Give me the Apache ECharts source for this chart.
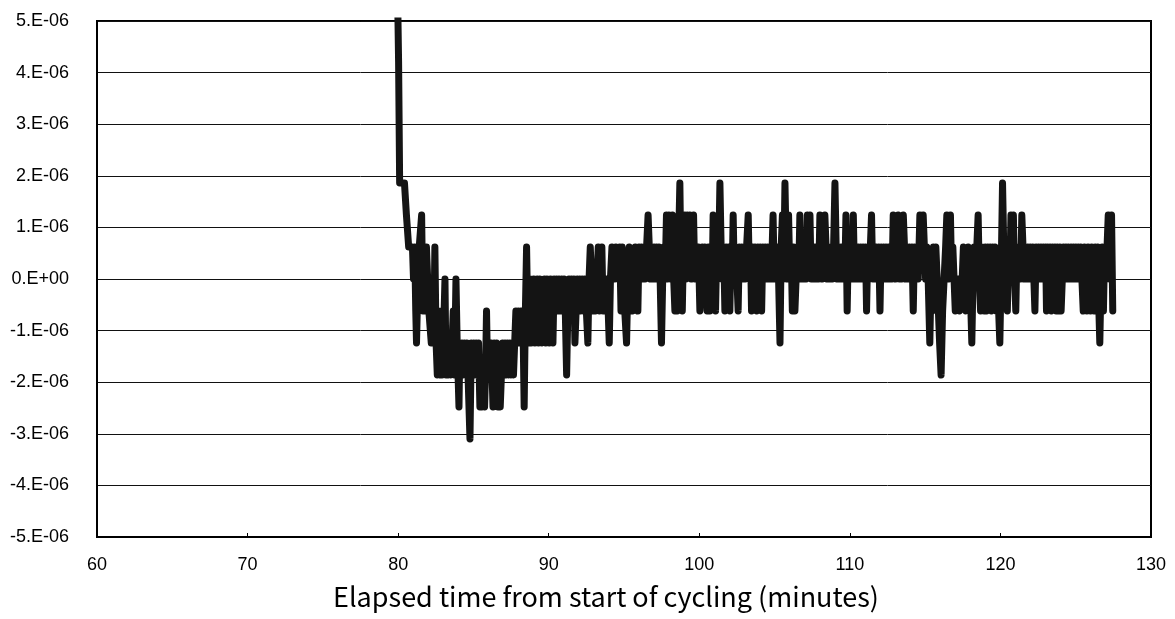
<!DOCTYPE html>
<html>
<head>
<meta charset="utf-8">
<script src="https://cdn.jsdelivr.net/npm/echarts@6/dist/echarts.min.js"></script>
<style>
  html, body { margin: 0; padding: 0; background: #fff; }
  #main { width: 1175px; height: 619px; }
</style>
</head>
<body>
<div id="main"></div>
<script>
// axis ticks
let xTicks = [60, 70, 80, 90, 100, 110, 120, 130];
let yTicks = [-5, -4, -3, -2, -1, 0, 1, 2, 3, 4, 5]; // in units of 1E-06

// trace: [minutes, value in 1E-06]
let trace = [
	[79.98, 5.2], [80.03, 4.2], [80.1, 1.86], [80.42, 1.86], [80.55, 1.24], [80.7, 0.62], [80.95, 0.62],
	[81.02, 0], [81.1, 0.62], [81.17, -0.62], [81.22, -1.24], [81.32, 0], [81.4, 0.62], [81.48, 0.62], [81.56, 1.24], [81.64, -0.62], [81.72, 0.62], [81.8, -0.62], [81.88, 0.62], [81.96, 0], [82.04, -0.62],
	[82.12, -0.62], [82.2, -1.24], [82.28, -0.62], [82.36, -1.24], [82.44, 0.62], [82.52, -1.24], [82.6, -1.86], [82.68, -1.24], [82.76, -1.86], [82.84, -0.62], [82.92, -1.86], [83.0, -1.24], [83.11, 0], [83.18, -1.86], [83.26, -1.24], [83.34, -1.86], [83.42, -1.24], [83.5, -1.86], [83.58, -1.24], [83.66, -0.62], [83.74, -1.86], [83.84, 0], [83.92, -1.24], [84.04, -2.48], [84.1, -1.24],
	[84.16, -1.86], [84.24, -1.24], [84.32, -1.86], [84.4, -1.24], [84.48, -1.86], [84.56, -1.24], [84.64, -1.86], [84.77, -3.1], [84.86, -1.24], [84.94, -1.86], [85.02, -1.24], [85.1, -1.86], [85.18, -1.24], [85.26, -1.86], [85.34, -1.24], [85.43, -2.48], [85.5, -1.86], [85.58, -2.48], [85.66, -1.86], [85.74, -2.48], [85.8, -1.86], [85.87, -0.62], [85.94, -1.86],
	[86.02, -1.24], [86.1, -1.86], [86.18, -1.24], [86.3, -2.48], [86.38, -1.24], [86.46, -1.86], [86.54, -1.24], [86.63, -2.48], [86.7, -1.86], [86.78, -2.48], [86.86, -1.86], [86.94, -1.24], [87.02, -1.86], [87.1, -1.24], [87.18, -1.86], [87.26, -1.24], [87.34, -1.86], [87.42, -1.24], [87.5, -1.86], [87.58, -1.24], [87.66, -1.86], [87.74, -1.24], [87.82, -0.62], [87.9, -1.24], [87.98, -0.62], [88.06, -1.24], [88.14, -0.62], [88.28, -0.62], [88.37, -2.48], [88.45, -0.62], [88.53, 0.62], [88.6, -0.62],
	[88.68, -1.24], [88.76, 0], [88.84, -1.24], [88.92, -0.62], [89.0, 0], [89.08, -1.24], [89.16, -0.62], [89.24, 0], [89.32, -1.24], [89.4, 0], [89.48, -0.62], [89.56, -1.24], [89.64, -0.62], [89.72, 0], [89.8, -1.24], [89.88, 0], [89.96, -0.62], [90.04, -1.24], [90.12, 0], [90.2, -0.62], [90.28, -1.24], [90.36, 0], [90.44, -0.62], [90.52, 0], [90.6, -0.62], [90.68, 0],
	[90.78, -0.62], [90.86, 0], [90.94, -0.62], [91.02, 0], [91.1, -0.62], [91.19, -1.86], [91.27, -0.62], [91.35, 0], [91.43, -0.62], [91.51, 0], [91.59, -0.62], [91.67, 0], [91.74, -1.24], [91.82, -0.62], [91.9, 0], [91.98, -0.62], [92.06, 0], [92.14, -0.62], [92.22, 0], [92.3, -0.62], [92.38, 0],
	[92.5, -0.62], [92.6, -1.24], [92.68, 0], [92.76, 0.62], [92.84, 0], [92.92, -0.62],
	[93.0, 0], [93.1, -0.62], [93.2, 0], [93.29, 0.62], [93.37, -0.62], [93.45, 0], [93.53, 0.62], [93.61, -0.62], [93.7, 0], [93.78, -0.62], [93.86, 0], [93.95, -0.62], [94.02, -1.24], [94.1, 0], [94.2, 0.62], [94.3, 0.62], [94.38, 0], [94.46, 0.62], [94.56, 0.62], [94.64, 0], [94.72, 0.62], [94.8, -0.62], [94.88, 0.62], [94.96, 0], [95.05, -0.62], [95.17, -1.24], [95.26, 0], [95.35, 0.62], [95.43, -0.62], [95.51, 0], [95.59, -0.62], [95.67, 0], [95.75, 0.62], [95.83, 0], [95.92, -0.62], [96.0, 0.62],
	[96.08, 0], [96.16, 0.62], [96.24, 0], [96.32, 0.62], [96.4, 0], [96.5, 0.62], [96.6, 1.24], [96.68, 0.62], [96.76, 0], [96.84, 0.62], [96.92, 0], [97.0, 0.62], [97.08, 0], [97.16, 0.62], [97.24, 0], [97.32, 0.62], [97.4, 0], [97.49, -1.24], [97.57, 0], [97.65, 0.62],
	[97.73, 0], [97.82, 1.24], [97.9, 0], [97.98, 1.24], [98.06, 0.62], [98.14, 0], [98.22, 1.24], [98.3, 0], [98.38, -0.62], [98.46, 0.62], [98.54, -0.62], [98.62, 0.62], [98.71, 1.86], [98.79, 0], [98.87, -0.62], [98.95, 0.62], [99.04, 1.24], [99.12, 0], [99.2, 1.24], [99.28, 0.62], [99.37, 1.24], [99.45, 0], [99.53, 0.62], [99.62, 1.24], [99.7, 0],
	[99.78, 0.62], [99.86, 0], [99.94, 0.62], [100.04, -0.62], [100.12, 0], [100.2, 0.62], [100.28, 0], [100.36, 0.62], [100.44, 0], [100.52, -0.62], [100.6, 0.62], [100.7, -0.62], [100.78, 0.62], [100.86, 0], [100.92, 1.24], [101.0, 0], [101.08, -0.62], [101.16, 0.62], [101.24, 0], [101.3, 0.62], [101.37, 1.86], [101.45, 0.62], [101.53, 0], [101.62, 0.62], [101.7, -0.62], [101.78, 0.62], [101.86, 0], [101.94, 0.62], [102.03, -0.62], [102.11, 0.62], [102.18, 0], [102.25, 1.24], [102.33, 0], [102.41, 0.62], [102.5, 0], [102.58, -0.62], [102.66, 0.62],
	[102.74, 0], [102.82, 0.62], [102.9, 0], [102.98, 0.62], [103.06, 0], [103.14, 0.62], [103.25, 1.24], [103.33, 0], [103.4, 0.62], [103.47, -0.62], [103.55, 0.62], [103.62, 0], [103.7, 0.62], [103.81, -0.62], [103.89, 0.62], [103.97, 0], [104.05, 0.62], [104.14, -0.62], [104.22, 0.62], [104.3, 0], [104.38, 0.62], [104.46, 0], [104.54, 0.62], [104.62, 0], [104.7, 0.62], [104.78, 0], [104.9, 1.24], [104.98, 0], [105.06, 0.62], [105.14, 0], [105.22, 0.62],
	[105.36, -1.24], [105.44, 0.62], [105.52, 1.24], [105.6, 0], [105.69, 1.86], [105.77, 0.62], [105.85, 0], [105.93, 1.24], [106.02, 0], [106.1, 0.62], [106.18, -0.62], [106.26, 0.62], [106.35, -0.62], [106.43, 0], [106.51, 0.62], [106.6, 0], [106.68, 1.24], [106.76, 0], [106.84, 0.62], [106.93, 0],
	[107.02, 0.62], [107.1, 0], [107.18, 1.24], [107.27, 0.62], [107.35, 1.24], [107.43, 0], [107.51, 0.62], [107.6, 0], [107.68, 0.62], [107.76, 0], [107.84, 0.62], [107.93, 0], [108.01, 1.24], [108.09, 0.62], [108.17, 0], [108.25, 0.62], [108.34, 1.24], [108.42, 0.62], [108.5, 0], [108.58, 0.62], [108.68, 0], [108.76, 0.62], [108.84, 0], [108.92, 0.62], [109.01, 1.86], [109.09, 0.62], [109.17, 0], [109.25, 0.62], [109.34, 0], [109.42, 0.62], [109.5, 0],
	[109.58, 0.62], [109.66, 0], [109.74, 1.24], [109.82, -0.62], [109.9, 0.62], [109.98, 0], [110.06, 0.62], [110.14, 0], [110.23, 1.24], [110.31, 0], [110.4, 0.62], [110.48, 0], [110.56, 0.62], [110.64, 0], [110.72, 0.62], [110.8, 0], [110.88, 0.62], [110.96, 0], [111.04, 0.62], [111.11, -0.62], [111.19, 0.62], [111.27, 0], [111.36, 0.62], [111.44, 1.24], [111.52, 0], [111.6, 0.62], [111.68, 0], [111.76, 0.62], [111.84, 0], [111.92, 0.62], [112.0, -0.62],
	[112.08, 0.62], [112.16, 0], [112.24, 0.62], [112.32, 0], [112.4, 0.62], [112.48, 0], [112.56, 0.62], [112.64, 0], [112.72, 0.62], [112.8, 0], [112.88, 1.24], [112.96, 0.62], [113.04, 0], [113.12, 0.62], [113.21, 1.24], [113.29, 0], [113.37, 0.62], [113.45, 0], [113.55, 1.24], [113.63, 0.62], [113.71, 0], [113.79, 0.62], [113.87, 0], [113.95, 0.62], [114.03, 0], [114.12, 0.62], [114.21, -0.62], [114.29, 0.62], [114.37, 0], [114.45, 0.62], [114.54, 0], [114.65, 1.24],
	[114.75, 0.62], [114.87, 1.24], [114.95, 0.62], [115.03, 0], [115.11, 0.62], [115.2, 0], [115.31, -1.24], [115.39, 0], [115.47, -0.62], [115.55, 0.62], [115.63, 0], [115.71, 0.62], [115.8, 0], [115.88, -0.62], [115.96, -1.24], [116.06, -1.86], [116.16, -0.62], [116.26, 0], [116.36, 0.62], [116.44, 1.24], [116.52, 0], [116.6, 0.62], [116.68, 1.24], [116.76, 0], [116.84, 0.62], [116.92, 0], [117.0, -0.62], [117.1, -0.62], [117.2, 0], [117.28, -0.62], [117.38, -0.62], [117.46, 0],
	[117.54, 0.62], [117.62, 0], [117.7, -0.62], [117.78, 0], [117.86, 0.62], [117.95, 0.62], [118.04, -0.62], [118.1, -1.24], [118.18, 0], [118.26, 0.62], [118.34, 0], [118.43, 0.62], [118.52, 1.24], [118.6, 0], [118.68, -0.62], [118.76, 0.62], [118.84, 0], [118.92, -0.62], [119.0, 0.62], [119.08, -0.62], [119.16, 0.62], [119.24, 0], [119.32, 0.62], [119.4, -0.62], [119.48, 0.62], [119.56, 0], [119.64, 0.62], [119.72, -0.62], [119.8, 0], [119.88, -0.62], [119.96, -1.24], [120.04, 0], [120.14, 1.86], [120.22, 0.62], [120.3, 0], [120.38, 0.62], [120.46, -0.62], [120.54, 0.62], [120.62, 0], [120.7, 1.24], [120.78, 0], [120.86, 1.24], [120.94, 0], [121.02, -0.62], [121.1, 0.62], [121.18, 0], [121.26, 0.62], [121.34, 0], [121.42, 1.24], [121.5, 0.62], [121.58, 0],
	[121.66, 0.62], [121.74, 0], [121.82, 0.62], [121.9, 0], [121.98, 0.62], [122.06, 0], [122.14, 0.62], [122.22, 0], [122.29, -0.62], [122.37, 0.62], [122.45, 0], [122.53, 0.62], [122.61, 0], [122.69, 0.62], [122.77, 0], [122.85, 0.62], [122.93, 0], [123.0, 0.62], [123.06, -0.62], [123.14, 0.62], [123.22, 0], [123.3, 0.62], [123.38, -0.62], [123.46, 0.62], [123.54, 0], [123.62, 0.62], [123.7, -0.62], [123.78, 0.62], [123.86, -0.62], [123.95, 0.62], [124.03, -0.62], [124.11, 0], [124.19, 0.62], [124.27, 0], [124.35, 0.62], [124.43, 0], [124.51, 0.62], [124.61, 0],
	[124.69, 0.62], [124.77, 0], [124.85, 0.62], [124.93, 0], [125.01, 0.62], [125.09, 0], [125.17, 0.62], [125.25, 0], [125.33, 0.62], [125.41, 0], [125.5, -0.62], [125.58, 0.62], [125.66, 0], [125.74, -0.62], [125.82, 0.62], [125.9, 0], [125.98, -0.62], [126.06, 0.62], [126.14, 0], [126.22, -0.62], [126.3, 0.62], [126.38, 0], [126.46, 0.62], [126.54, -0.62], [126.6, -1.24], [126.68, 0], [126.76, 0.62], [126.84, -0.62], [126.92, 0.62], [127.0, 0], [127.08, 0.62], [127.16, 1.24], [127.24, 0], [127.32, 0.62], [127.38, 1.24], [127.46, -0.62]
];

let chartDom = document.getElementById('main');
let myChart = echarts.init(chartDom);

function yLabel(v) {
	if (v === 0) return '0.E+00';
	return (v < 0 ? '-' : '') + Math.abs(v) + '.E-06';
}

let labelFont = 'Arial, "Liberation Sans", sans-serif';

let option = {
	animation: false,
	backgroundColor: '#fff',
	grid: {
		left: 97,
		right: 24,
		top: 21,
		bottom: 82,
		show: true,
		borderColor: '#000',
		borderWidth: 2
	},
	xAxis: {
		type: 'value',
		min: xTicks[0],
		max: xTicks[xTicks.length - 1],
		interval: 10,
		name: 'Elapsed time from start of cycling (minutes)',
		nameLocation: 'middle',
		nameGap: 46,
		nameTextStyle: {
			color: '#000',
			fontSize: 27,
			fontFamily: '"Noto Sans CJK JP", sans-serif',
			padding: [0, 36, 0, 0]
		},
		axisLine: { onZero: false, lineStyle: { color: '#000', width: 2 } },
		axisTick: { inside: true, length: 4, lineStyle: { color: '#000' } },
		axisLabel: {
			color: '#000',
			fontSize: 18,
			fontFamily: labelFont,
			margin: 19
		},
		splitLine: { show: false }
	},
	yAxis: {
		type: 'value',
		min: yTicks[0],
		max: yTicks[yTicks.length - 1],
		interval: 1,
		axisLine: { show: true, lineStyle: { color: '#000', width: 2 } },
		axisTick: { show: false },
		axisLabel: {
			color: '#000',
			fontSize: 18,
			fontFamily: labelFont,
			margin: 28,
			formatter: yLabel
		},
		splitLine: { lineStyle: { color: '#111', width: 1 } }
	},
	series: [{
		type: 'line',
		data: trace,
		symbol: 'none',
		clip: true,
		lineStyle: {
			color: '#141414',
			width: 7,
			join: 'round',
			cap: 'round'
		}
	}]
};

myChart.setOption(option);
</script>
</body>
</html>
